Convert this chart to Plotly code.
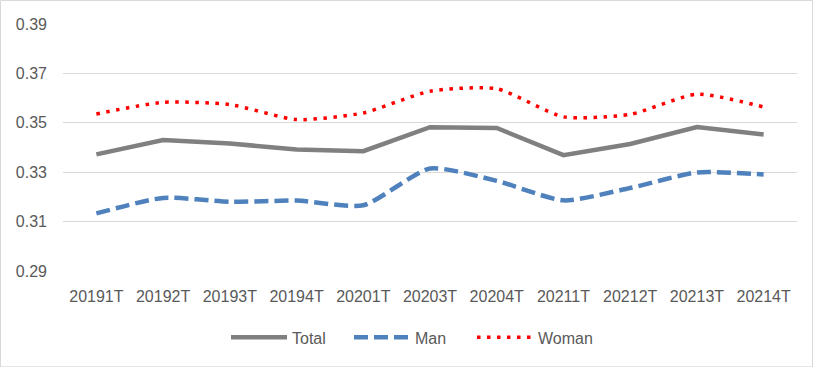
import plotly.graph_objects as go

categories = ["20191T", "20192T", "20193T", "20194T", "20201T", "20203T",
              "20204T", "20211T", "20212T", "20213T", "20214T"]
total = [0.3372, 0.3430, 0.3416, 0.3392, 0.3385, 0.3482, 0.3479, 0.3369, 0.3414, 0.3483, 0.3453]
man = [0.3133, 0.3196, 0.3180, 0.3185, 0.3166, 0.3315, 0.3265, 0.3186, 0.3236, 0.3299, 0.3291]
woman = [0.3536, 0.3583, 0.3574, 0.3513, 0.3540, 0.3628, 0.3638, 0.3524, 0.3534, 0.3616, 0.3564]
y_ticks = [0.29, 0.31, 0.33, 0.35, 0.37, 0.39]

FONT = "Liberation Sans"
fig = go.Figure()
fig.add_trace(go.Scatter(x=categories, y=total, name="Total", mode="lines",
                         line=dict(color="#808080", width=4.5)))
fig.add_trace(go.Scatter(x=categories, y=man, name="Man", mode="lines",
                         line=dict(color="#4F81BD", width=4.5, dash="14px,6px", shape="spline", smoothing=0.6)))
fig.add_trace(go.Scatter(x=categories, y=woman, name="Woman", mode="lines",
                         line=dict(color="#FF0000", width=3.5, dash="3.5px,6.5px", shape="spline", smoothing=0.6)))

fig.update_layout(
    width=813, height=367,
    margin=dict(l=63, r=16, t=24, b=96, autoexpand=False),
    paper_bgcolor="white", plot_bgcolor="white",
    font=dict(family=FONT, color="#595959", size=16),
    showlegend=True,
    legend=dict(orientation="h", x=(226 - 63) / 734, xanchor="left", y=-0.269, yanchor="middle",
                font=dict(size=16, color="#595959"), itemwidth=56, entrywidth=52,
                entrywidthmode="pixels", tracegroupgap=0),
    xaxis=dict(showgrid=False, showline=False, zeroline=False, ticks="", automargin=False,
               range=[-0.5, len(categories) - 0.5],
               ticklabelstandoff=14, tickfont=dict(size=16)),
    yaxis=dict(range=[0.29, 0.39], tickvals=y_ticks, ticktext=[f"{v:.2f}" for v in y_ticks],
               showgrid=True, gridcolor="#D9D9D9", gridwidth=1, zeroline=False, automargin=False,
               showline=False, ticks="", ticklabelstandoff=15, tickfont=dict(size=16)),
    shapes=[dict(type="rect", xref="paper", yref="paper",
                 x0=(0.5 - 63) / 734, x1=(812.5 - 63) / 734,
                 y0=(270.7 - 366.5) / 246.7, y1=(270.7 - 0.5) / 246.7,
                 line=dict(color="#D9D9D9", width=1), fillcolor="rgba(0,0,0,0)", layer="below")],
)
fig.write_html("out.html", config={"displayModeBar": False},
               post_script="document.body.style.margin='0';document.body.style.overflow='hidden';")
